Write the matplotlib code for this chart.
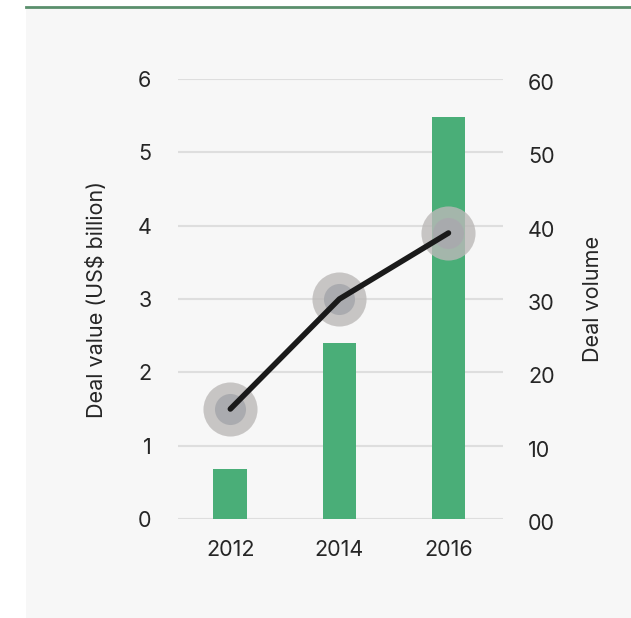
import matplotlib
matplotlib.use("Agg")
import matplotlib.pyplot as plt
import matplotlib.transforms as mtransforms
from matplotlib.patches import Rectangle
from matplotlib.lines import Line2D

years = ["2012", "2014", "2016"]
deal_value = [0.68, 2.40, 5.48]     # US$ billion
deal_volume = [15, 30, 39]
left_ticks = [0, 1, 2, 3, 4, 5, 6]
right_ticks = [0, 10, 20, 30, 40, 50, 60]
right_labels = ["00", "10", "20", "30", "40", "50", "60"]

plt.rcParams["font.family"] = ["Inter", "DejaVu Sans"]
text_color = "#262626"
fs = 15.5

W, H = 631, 618
fig = plt.figure(figsize=(W / 100, H / 100), dpi=100)
fig.patch.set_facecolor("white")

# panel background and top accent rule
fig.add_artist(Rectangle((26 / W, 0), 1 - 26 / W, 1 - 8 / H, transform=fig.transFigure,
                         facecolor="#f7f7f7", edgecolor="none", zorder=0))
fig.add_artist(Line2D([26 / W, 1], [1 - 6.5 / H, 1 - 6.5 / H], transform=fig.transFigure,
                      color="#5a8f6c", lw=2, zorder=1))

left, right = 178 / W, 503 / W
bottom, top = 1 - 519 / H, 1 - 79 / H
ax = fig.add_axes([left, bottom, right - left, top - bottom])
ax.set_facecolor("none")
x = list(range(len(years)))

ax.set_xlim(-0.48, 2.5)
ax.set_ylim(0, 6)
ax.set_yticks(left_ticks)
ax.yaxis.grid(True, color="#dedede", lw=1.5)
ax.set_axisbelow(True)
ax.bar(x, deal_value, width=0.31, color="#4aae78", zorder=2)
ax.set_xticks(x)
ax.set_xticklabels(years)
for s in ax.spines.values():
    s.set_visible(False)
ax.tick_params(axis="both", length=0, labelsize=fs, colors=text_color)
ax.tick_params(axis="y", pad=19)
ax.tick_params(axis="x", pad=15)
ax.set_ylabel("Deal value (US$ billion)", fontsize=fs, color=text_color, labelpad=22)

ax2 = ax.twinx()
ax2.set_ylim(0, 60)
ax2.set_yticks(right_ticks)
ax2.set_yticklabels(right_labels)
for s in ax2.spines.values():
    s.set_visible(False)
ax2.tick_params(axis="y", length=0, labelsize=fs, colors=text_color, pad=18)
ax2.set_ylabel("Deal volume", fontsize=fs, color=text_color, labelpad=20)
shift = mtransforms.ScaledTranslation(0, -3 / 100, fig.dpi_scale_trans)
for lbl in ax2.get_yticklabels():
    lbl.set_transform(lbl.get_transform() + shift)

ax2.scatter(x, deal_volume, s=54 ** 2 * 0.52, color="#bcb9b8", alpha=0.8, linewidths=0, zorder=3)
ax2.scatter(x, deal_volume, s=31 ** 2 * 0.52, color="#a9aaae", alpha=0.95, linewidths=0, zorder=4)
ax2.plot(x, deal_volume, color="#1a1a1a", lw=4, solid_capstyle="round", zorder=5)

fig.savefig("out.png", dpi=100, facecolor=fig.get_facecolor())
